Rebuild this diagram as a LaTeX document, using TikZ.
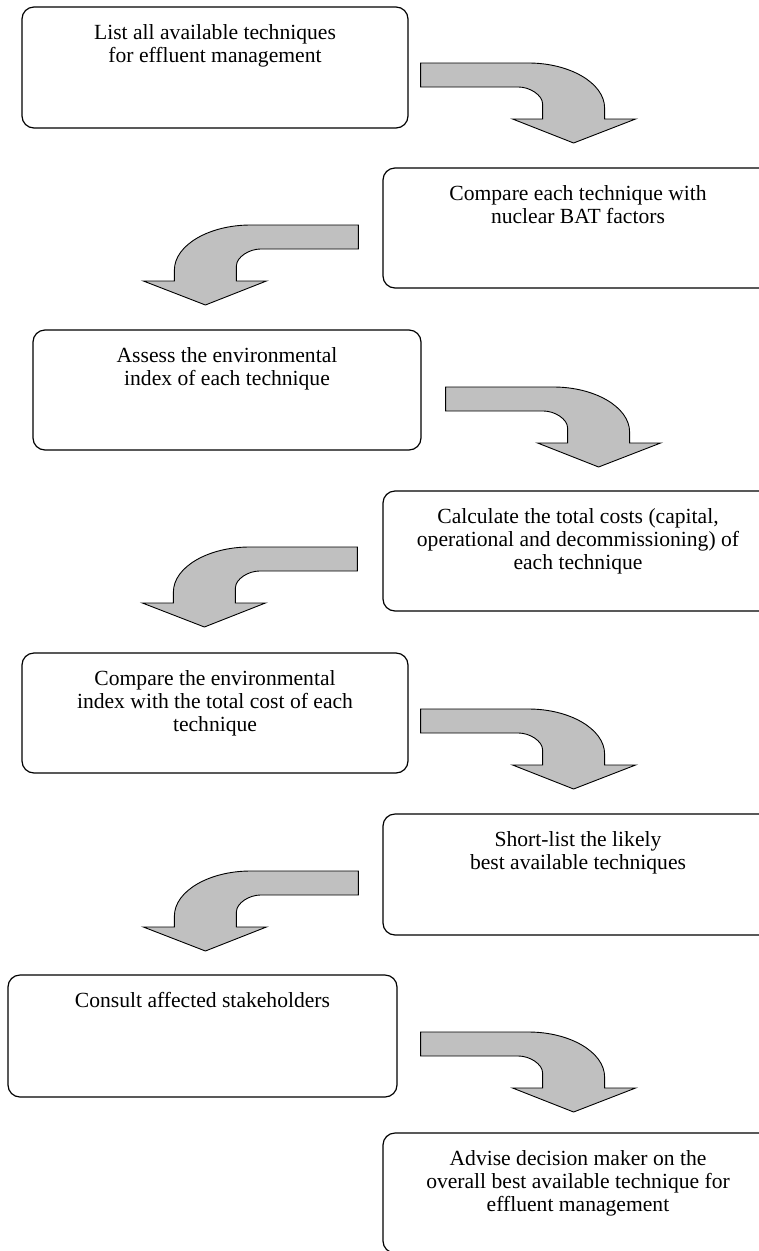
\documentclass[tikz,border=0pt]{standalone}
\usepackage{fontspec}
\setmainfont{Liberation Serif}
\usetikzlibrary{positioning}
\definecolor{arrowgrey}{RGB}{192,192,192}
\tikzset{
  stepbox/.style={draw, rounded corners=12pt, line width=1.2pt, minimum height=120pt, inner sep=0pt},
  steptext/.style={align=center, inner sep=0pt, font=\fontsize{21.6}{23}\selectfont},
  turn/.style={draw, fill=arrowgrey, line width=0.9pt},
  rturn/.pic={
    \path[turn] (0,0) -- (108,0) .. controls (149,0) and (184,20) .. (184,45)
      -- (184,56) -- (215,56) -- (153,80) -- (92,56) -- (122,56) -- (122,41)
      .. controls (122,32) and (109,24) .. (98,24) -- (0,24) -- cycle;
  }
}
\begin{document}
\begin{tikzpicture}[x=1pt, y=-1pt]
\useasboundingbox (0,0) rectangle (759,1251);

% boxes
\node[stepbox, minimum width=386pt, minimum height=121pt] (b1) at (215,67.5) {};
\node[stepbox, minimum width=390pt] (b2) at (578,228) {};
\node[stepbox, minimum width=388pt] (b3) at (227,390) {};
\node[stepbox, minimum width=390pt] (b4) at (578,551) {};
\node[stepbox, minimum width=386pt] (b5) at (215,713) {};
\node[stepbox, minimum width=390pt, minimum height=121pt] (b6) at (578,874.5) {};
\node[stepbox, minimum width=389pt, minimum height=122pt] (b7) at (202.5,1036) {};
\node[stepbox, minimum width=390pt] (b8) at (578,1193) {};

% texts
\node[steptext, below=18pt of b1.north] (t1) {List all available techniques\\for effluent management};
\node[steptext, below=18pt of b2.north] (t2) {Compare each technique with\\nuclear BAT factors};
\node[steptext, below=18pt of b3.north] (t3) {Assess the environmental\\index of each technique};
\node[steptext, below=18pt of b4.north] (t4) {Calculate the total costs (capital,\\operational and decommissioning) of\\each technique};
\node[steptext, below=18pt of b5.north] (t5) {Compare the environmental\\index with the total cost of each\\technique};
\node[steptext, below=18pt of b6.north] (t6) {Short-list the likely\\best available techniques};
\node[steptext, below=18pt of b7.north] (t7) {Consult affected stakeholders};
\node[steptext, below=18pt of b8.north] (t8) {Advise decision maker on the\\overall best available technique for\\effluent management};

% turning arrows
\pic (a1) at ([xshift=12pt,yshift=4.5pt]b1.east) {rturn};
\pic[xscale=-1] (a2) at ([xshift=-24pt,yshift=3pt]b2.west) {rturn};
\pic (a3) at ([xshift=24pt,yshift=3pt]b3.east) {rturn};
\pic[xscale=-1] (a4) at ([xshift=-25pt,yshift=4pt]b4.west) {rturn};
\pic (a5) at ([xshift=12pt,yshift=4pt]b5.east) {rturn};
\pic[xscale=-1] (a6) at ([xshift=-24pt,yshift=3.5pt]b6.west) {rturn};
\pic (a7) at ([xshift=23pt,yshift=4pt]b7.east) {rturn};
\end{tikzpicture}
\end{document}
